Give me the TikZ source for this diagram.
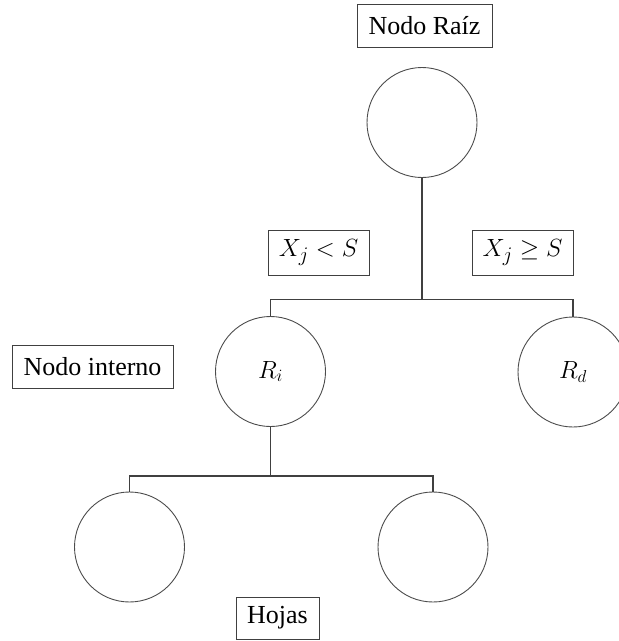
\documentclass[tikz,border=0pt]{standalone}
\usepackage{fontspec}
\setmainfont{Liberation Serif}
% larger subscripts at the big label sizes
\DeclareMathSizes{26}{24.88}{20.74}{17.28}
\DeclareMathSizes{23}{23}{17.28}{14.4}
\begin{document}
\begin{tikzpicture}[x=1pt,y=-1pt,
  lbl/.style={draw=black!75,line width=1pt,rectangle,inner sep=0pt,
    font=\fontsize{26}{30}\selectfont,text=black},
  nd/.style={draw=black!70,line width=0.9pt,circle,inner sep=0pt,
    minimum size=110pt,font=\fontsize{23}{28}\selectfont},
  link/.style={draw=black!75,line width=1.2pt}]
\useasboundingbox (0,0) rectangle (619,641);

% tree nodes
\node[nd] (root)  at (422,122.5) {};
\node[nd] (ri)    at (270.5,371.5) {$R_i$};
\node[nd] (rd)    at (573,372) {$R_d$};
\node[nd] (leafl) at (129.5,547) {};
\node[nd] (leafr) at (433,547) {};

% split points
\coordinate (s1) at (422,299.5);
\coordinate (s2) at (270.5,476);

% connectors
\draw[link] (root.south) -- (s1);
\draw[link] (ri.north) |- (s1) -| (rd.north);
\draw[link,line width=1.8pt] (ri.south) -- (s2);
\draw[link] (leafl.north) |- (s2) -| (leafr.north);

% labels
\node[lbl,minimum width=135pt,minimum height=43pt] (troot) at (424.5,25.5) {Nodo Raíz};
\node[lbl,minimum width=161pt,minimum height=43pt] (tint) at (92.5,366.5) {Nodo interno};
\node[lbl,minimum width=101pt,minimum height=45pt] (cl) at (318.5,252.5) {$X_j < S$};
\node[lbl,minimum width=101pt,minimum height=45pt] (cr) at (522.5,252.5) {$X_j \geq S$};
\node[lbl,minimum width=83pt,minimum height=42pt] (thoj) at (277.5,618) {Hojas};
\end{tikzpicture}
\end{document}
